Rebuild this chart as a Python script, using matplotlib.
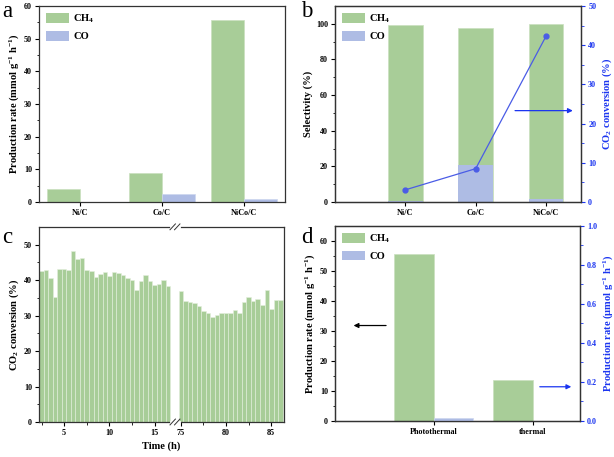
import numpy as np
import matplotlib
matplotlib.use("Agg")
import matplotlib.pyplot as plt
from matplotlib.patches import Patch

plt.rcParams['font.family'] = ['Liberation Serif', 'DejaVu Serif']
plt.rcParams['font.weight'] = 'bold'
plt.rcParams['mathtext.fontset'] = 'custom'
plt.rcParams['mathtext.rm'] = 'Liberation Serif:bold'
plt.rcParams['mathtext.it'] = 'Liberation Serif:italic:bold'
plt.rcParams['mathtext.bf'] = 'Liberation Serif:bold'
plt.rcParams['axes.linewidth'] = 0.9
plt.rcParams['axes.edgecolor'] = '#333333'

# ---------------- data ----------------
catalysts = ["Ni/C", "Co/C", "NiCo/C"]
rate_ch4 = [4.1, 8.8, 55.6]
rate_co = [0.0, 2.4, 1.0]

sel_ch4 = [99.3, 97.7, 99.6]
sel_co = [0.3, 20.5, 1.5]
conversion = [3.1, 8.5, 42.3]

time_early = np.arange(2.5, 17.0, 0.5)
conv_early = [42.5, 42.8, 40.5, 35.1, 43.1, 43.1, 42.9, 48.3, 45.9, 46.1,
              42.7, 42.6, 40.9, 41.6, 42.3, 41.2, 42.2, 42.0, 41.5, 40.7,
              39.9, 37.3, 39.7, 41.4, 39.7, 38.7, 38.9, 40.0, 38.3]
time_late = np.arange(75.0, 86.5, 0.5)
conv_late = [36.9, 34.0, 33.9, 33.5, 32.8, 31.4, 30.7, 29.7, 30.2, 30.6,
             30.6, 30.6, 31.6, 30.8, 33.8, 35.1, 34.2, 34.6, 33.0, 37.3,
             31.8, 34.3, 34.3]

modes = ["Photothermal", "thermal"]
mode_ch4 = [55.6, 13.7]      # mmol g-1 h-1
mode_co = [0.013, 0.0]       # umol g-1 h-1

green = '#a8cd98'
blue = '#aebce4'
line_blue = '#4a5ce6'
arrow_blue = '#1b35f0'
tick_fs = 5.9
lab_fs = 7.6

fig = plt.figure(figsize=(6.14, 4.57), dpi=100)
ax_a = fig.add_axes([0.0635, 0.558, 0.401, 0.429])
ax_b = fig.add_axes([0.5456, 0.558, 0.401, 0.429])
ax_c = fig.add_axes([0.0635, 0.0766, 0.399, 0.427])
ax_d = fig.add_axes([0.5456, 0.0788, 0.399, 0.427])


def style(ax):
    ax.tick_params(axis='both', which='major', direction='out', length=3, width=0.8,
                   labelsize=tick_fs, pad=2)
    ax.tick_params(axis='both', which='minor', direction='out', length=1.8, width=0.6)
    for lab in ax.get_xticklabels() + ax.get_yticklabels():
        lab.set_fontweight('bold')


def legend(ax):
    handles = [Patch(facecolor=green, edgecolor='none'), Patch(facecolor=blue, edgecolor='none')]
    ax.legend(handles, ["CH$_4$", "CO"], loc='upper left', frameon=False,
              handlelength=2.2, handleheight=1.0, labelspacing=0.55, handletextpad=0.4,
              borderaxespad=0.25, prop={'weight': 'bold', 'size': lab_fs})


# ---------------- a ----------------
x = np.arange(1, 4)
ax_a.bar(x, rate_ch4, width=-0.4, align='edge', color=green, edgecolor='#c9e0bf', lw=0.5)
ax_a.bar(x, rate_co, width=0.4, align='edge', color=blue, edgecolor='#cdd6ef', lw=0.5)
ax_a.set_xlim(0.5, 3.5)
ax_a.set_ylim(0, 60)
ax_a.set_xticks(x)
ax_a.set_xticklabels(catalysts)
ax_a.set_yticks(np.arange(0, 61, 10))
ax_a.set_yticks(np.arange(5, 60, 10), minor=True)
ax_a.set_ylabel("Production rate (mmol g$^{-1}$ h$^{-1}$)", fontsize=lab_fs, fontweight='bold', labelpad=2)
style(ax_a)
legend(ax_a)

# ---------------- b ----------------
ax_b.bar(x, sel_ch4, width=0.49, color=green, edgecolor='#c9e0bf', lw=0.5)
ax_b.bar(x, sel_co, width=0.49, color=blue, edgecolor='none')
ax_b.set_xlim(0, 3.5)
ax_b.set_ylim(0, 110)
ax_b.set_xticks(x)
ax_b.set_xticklabels(catalysts)
ax_b.set_yticks(np.arange(0, 101, 20))
ax_b.set_yticks(np.arange(10, 110, 20), minor=True)
ax_b.set_ylabel("Selectivity (%)", fontsize=lab_fs, fontweight='bold', labelpad=2)
style(ax_b)
legend(ax_b)
ax_b2 = ax_b.twinx()
ax_b2.plot(x, conversion, color=line_blue, lw=0.9, marker='o', ms=3.5)
ax_b2.set_ylim(0, 50)
ax_b2.set_yticks(np.arange(0, 51, 10))
ax_b2.set_yticks(np.arange(5, 50, 10), minor=True)
ax_b2.set_ylabel("CO$_2$ conversion (%)", fontsize=lab_fs, fontweight='bold', color=arrow_blue, labelpad=3)
style(ax_b2)
ax_b2.tick_params(axis='y', which='both', colors=arrow_blue, labelcolor=arrow_blue)
ax_b2.spines['right'].set_color('#333333')
ax_b2.annotate('', xy=(3.42, 23.3), xytext=(2.52, 23.3),
               arrowprops=dict(arrowstyle='-|>', color=arrow_blue, lw=0.9, mutation_scale=7))

# ---------------- c ----------------
shift = 75 - 17.9
ax_c.bar(time_early, conv_early, width=0.5, color=green, edgecolor='#e4efdd', lw=0.4)
ax_c.bar(time_late - shift, conv_late, width=0.5, color=green, edgecolor='#e4efdd', lw=0.4)
ax_c.set_xlim(2.22, 86.4 - shift)
ax_c.set_ylim(0, 55)
major = [5, 10, 15, 75, 80, 85]
ax_c.set_xticks([t if t < 50 else t - shift for t in major])
ax_c.set_xticklabels([str(t) for t in major])
minor = [2.5, 7.5, 12.5, 77.5, 82.5]
ax_c.set_xticks([t if t < 50 else t - shift for t in minor], minor=True)
ax_c.set_yticks(np.arange(0, 51, 10))
ax_c.set_yticks(np.arange(5, 55, 10), minor=True)
ax_c.set_ylabel("CO$_2$ conversion (%)", fontsize=lab_fs, fontweight='bold', labelpad=2)
ax_c.set_xlabel("Time (h)", fontsize=lab_fs, fontweight='bold', labelpad=3)
style(ax_c)
trans = ax_c.get_xaxis_transform()
xb = 17.25
for yb in (0.0, 1.0):
    ax_c.plot([xb - 0.45, xb + 0.45], [yb, yb], color='white', lw=2, transform=trans, clip_on=False, zorder=5)
    for dx in (-0.25, 0.25):
        ax_c.plot([xb + dx - 0.3, xb + dx + 0.3], [yb - 0.015, yb + 0.015], color='#333333',
                  lw=0.7, transform=trans, clip_on=False, zorder=6)

# ---------------- d ----------------
xd = np.arange(1, 3)
ax_d.bar(xd, mode_ch4, width=-0.4, align='edge', color=green, edgecolor='#c9e0bf', lw=0.5)
ax_d.set_xlim(0, 2.48)
ax_d.set_ylim(0, 65)
ax_d.set_xticks(xd)
ax_d.set_xticklabels(modes)
ax_d.set_yticks(np.arange(0, 61, 10))
ax_d.set_yticks(np.arange(5, 65, 10), minor=True)
ax_d.set_ylabel("Production rate (mmol g$^{-1}$ h$^{-1}$)", fontsize=lab_fs, fontweight='bold', labelpad=2)
style(ax_d)
legend(ax_d)
ax_d2 = ax_d.twinx()
ax_d2.bar(xd, mode_co, width=0.4, align='edge', color=blue, edgecolor='#cdd6ef', lw=0.5)
ax_d2.set_ylim(0, 1.0)
ax_d2.set_yticks(np.arange(0, 1.01, 0.2))
ax_d2.set_yticks(np.arange(0.1, 1.0, 0.2), minor=True)
ax_d2.yaxis.set_major_formatter(matplotlib.ticker.FormatStrFormatter('%.1f'))
ax_d2.set_ylabel("Production rate (\u03bcmol g$^{-1}$ h$^{-1}$)", fontsize=lab_fs, fontweight='bold',
                 color=arrow_blue, labelpad=3)
style(ax_d2)
ax_d2.tick_params(axis='y', which='both', colors=arrow_blue, labelcolor=arrow_blue)
ax_d2.spines['right'].set_color('#333333')
ax_d.annotate('', xy=(0.16, 31.8), xytext=(0.545, 31.8),
              arrowprops=dict(arrowstyle='-|>', color='black', lw=0.9, mutation_scale=7))
ax_d.annotate('', xy=(2.42, 11.4), xytext=(2.045, 11.4),
              arrowprops=dict(arrowstyle='-|>', color=arrow_blue, lw=0.9, mutation_scale=7))

# panel letters
for lx, ly, s in [(0.003, 0.998, 'a'), (0.49, 0.998, 'b'), (0.003, 0.503, 'c'), (0.49, 0.503, 'd')]:
    fig.text(lx, ly, s, fontsize=16.5, fontweight='normal', va='top', ha='left')

fig.savefig("out.png", dpi=100)
